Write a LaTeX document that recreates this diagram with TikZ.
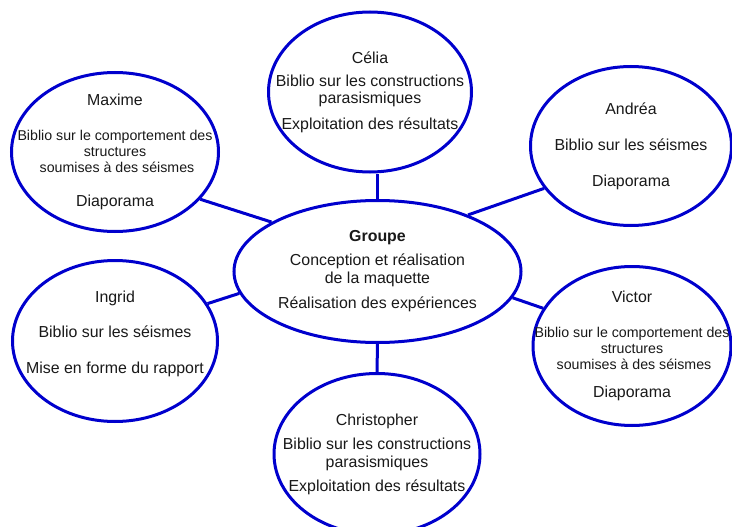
\documentclass[tikz,border=0pt]{standalone}
\usepackage{fontspec}
\setmainfont{Liberation Sans}
\usetikzlibrary{shapes.geometric}
\definecolor{ringblue}{RGB}{0,0,205}
\definecolor{txt}{RGB}{25,25,25}
\newcommand{\smalltxt}{\fontsize{14.2}{16}\selectfont}
\tikzset{
  bubble/.style={ellipse, draw=ringblue, line width=3pt, fill=white, inner sep=0pt},
  bubbletext/.style={inner sep=0pt, align=center, text=txt, font=\fontsize{15.9}{18}\selectfont},
  link/.style={draw=ringblue, line width=3pt}
}
\begin{document}
\begin{tikzpicture}[x=1pt,y=-1pt]
\useasboundingbox (0,0) rectangle (732,527);
\node[bubble, minimum width=287pt, minimum height=142pt] (groupe) at (377.5,271.5) {};
\node[bubble, minimum width=207pt, minimum height=159pt] (maxime) at (115,152) {};
\node[bubble, minimum width=203pt, minimum height=160pt] (celia) at (370,92) {};
\node[bubble, minimum width=201pt, minimum height=159pt] (andrea) at (631,146) {};
\node[bubble, minimum width=205pt, minimum height=161pt] (ingrid) at (115,341) {};
\node[bubble, minimum width=198pt, minimum height=159pt] (victor) at (632,346) {};
\node[bubble, minimum width=206pt, minimum height=161pt] (christopher) at (377,454) {};
\node[bubbletext] (groupetext) at (groupe.center)
  {\textbf{Groupe}\\[6pt]Conception et réalisation\\de la maquette\\[7pt]Réalisation des expériences};
\node[bubbletext] (maximetext) at (maxime.center)
  {Maxime\\[17pt]{\smalltxt Biblio sur le comportement des}\\[-2.5pt]{\smalltxt structures}\\[-2pt]{\smalltxt\hspace*{4pt}soumises à des séismes}\\[16pt]Diaporama};
\node[bubbletext] (celiatext) at (celia.center)
  {Célia\\[5pt]Biblio sur les constructions\\[-1pt]parasismiques\\[8pt]Exploitation des résultats};
\node[bubbletext] (andreatext) at (andrea.center)
  {Andréa\\[18pt]Biblio sur les séismes\\[18pt]Diaporama};
\node[bubbletext] (ingridtext) at (ingrid.center)
  {Ingrid\\[17pt]Biblio sur les séismes\\[18pt]Mise en forme du rapport\\[0pt]\mbox{}};
\node[bubbletext] (victortext) at (victor.center)
  {Victor\\[17pt]{\smalltxt Biblio sur le comportement des}\\[-2pt]{\smalltxt structures}\\[-2pt]{\smalltxt\hspace*{4pt}soumises à des séismes}\\[10pt]Diaporama};
\node[bubbletext] (christophertext) at (christopher.center)
  {Christopher\\[6pt]Biblio sur les constructions\\parasismiques\\[6pt]Exploitation des résultats};
\draw[link] (groupe.north) -- (groupe.north |- celia.south);
\draw[link] (groupe.south) -- (christopher.north);
\draw[link] (maxime.-29) -- (groupe.155);
\draw[link] (andrea.-154) -- (groupe.32);
\draw[link] (ingrid.22) -- (groupe.-171);
\draw[link] (victor.157) -- (groupe.-11);
\end{tikzpicture}
\end{document}
